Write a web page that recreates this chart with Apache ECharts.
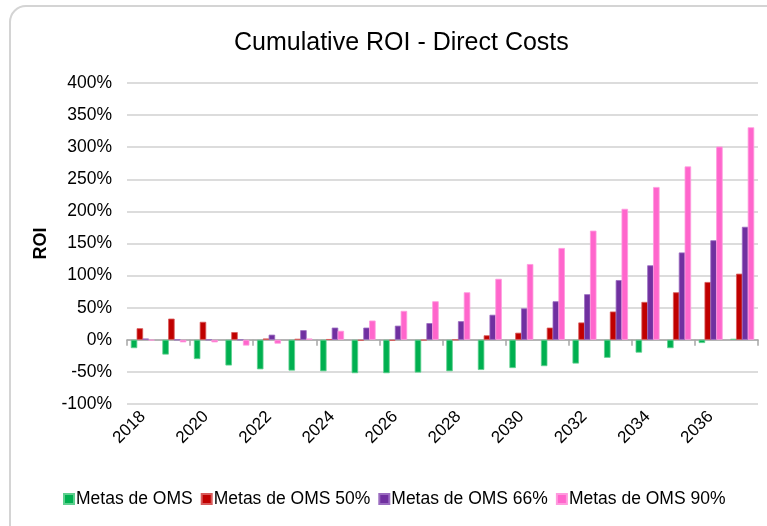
<!DOCTYPE html>
<html>
<head>
<meta charset="utf-8">
<script src="https://cdn.jsdelivr.net/npm/echarts@6/dist/echarts.min.js"></script>
<style>
  html, body { margin: 0; padding: 0; background: #fff; }
  #chartWrap { width: 767px; height: 526px; }
</style>
</head>
<body>
<div id="chartWrap"></div>
<script>
// 年份
var years = ['2018', '2019', '2020', '2021', '2022', '2023', '2024', '2025', '2026', '2027',
  '2028', '2029', '2030', '2031', '2032', '2033', '2034', '2035', '2036', '2037']
// ROI (%)
var metasOMS = [-13, -23, -30, -40, -46, -48, -49, -52, -52, -51, -49, -47, -44, -41, -37, -28, -20, -13, -5, 1.5]
var metas50 = [18, 33, 28, 12, 2, 1.5, 1, -1.5, -1.5, -1, 0, 7, 11, 19, 27, 44, 59, 74, 90, 103]
var metas66 = [2, 0, 0, 0, 8, 15, 19, 19, 22, 26, 29, 39, 49, 60, 71, 93, 116, 136, 155, 176]
var metas90 = [-1, -4, -4, -9, -6, 2, 14, 30, 45, 60, 74, 95, 118, 143, 170, 204, 238, 270, 301, 331]
var yTicks = [-100, -50, 0, 50, 100, 150, 200, 250, 300, 350, 400]

var myChart = echarts.init(document.getElementById('chartWrap'))
var font = 'Liberation Sans, Arial, sans-serif'

function barSeries(name, data, color, edge) {
  return {
    name: name,
    type: 'bar',
    xAxisIndex: 0,
    data: data,
    barGap: '-10%',
    barCategoryGap: '24%',
    itemStyle: { color: color, borderColor: edge, borderWidth: 0.8 },
    animation: false
  }
}

var option = {
  backgroundColor: '#fff',
  graphic: [{
    type: 'rect',
    shape: { x: 10, y: 6, width: 800, height: 560, r: 16 },
    style: { fill: 'none', stroke: '#d4d4d4', lineWidth: 2 },
    silent: true
  }],
  title: {
    text: 'Cumulative ROI - Direct Costs',
    left: 229,
    top: 26,
    textStyle: { fontFamily: font, fontSize: 25, fontWeight: 'normal', color: '#000' }
  },
  legend: {
    bottom: 13,
    left: 58,
    itemWidth: 10,
    itemHeight: 10,
    itemGap: 8,
    icon: 'rect',
    textStyle: { fontFamily: font, fontSize: 17.5, color: '#000', padding: [0, 0, 0, -3] },
    data: ['Metas de OMS', 'Metas de OMS 50%', 'Metas de OMS 66%', 'Metas de OMS 90%']
  },
  grid: { left: 127, right: 9, top: 83, bottom: 122 },
  xAxis: [{
    type: 'category',
    data: years,
    position: 'bottom',
    axisLine: { show: false, onZero: false },
    axisTick: { show: false },
    axisLabel: {
      interval: 1,
      rotate: 45,
      margin: 10,
      fontFamily: font,
      fontSize: 17,
      color: '#000'
    }
  }, {
    type: 'category',
    data: years,
    position: 'top',
    axisLine: { show: true, onZero: true, lineStyle: { color: '#a6a6a6', width: 1.5 } },
    axisTick: { show: true, inside: true, interval: 1, length: 6, lineStyle: { color: '#a6a6a6', width: 1.5 } },
    axisLabel: { show: false }
  }],
  yAxis: {
    type: 'value',
    min: yTicks[0],
    max: yTicks[yTicks.length - 1],
    interval: 50,
    name: 'ROI',
    nameLocation: 'middle',
    nameGap: 72,
    nameTextStyle: { fontFamily: font, fontSize: 18, fontWeight: 'bold', color: '#000' },
    axisLine: { show: false },
    axisTick: { show: false },
    axisLabel: {
      formatter: '{value}%',
      margin: 15,
      fontFamily: font,
      fontSize: 17.5,
      color: '#000'
    },
    splitLine: { lineStyle: { color: '#d0d0d0', width: 1.5 } }
  },
  series: [
    barSeries('Metas de OMS', metasOMS, '#00b050', '#5fd08f'),
    barSeries('Metas de OMS 50%', metas50, '#c00000', '#d85a5a'),
    barSeries('Metas de OMS 66%', metas66, '#7030a0', '#9b6cc0'),
    barSeries('Metas de OMS 90%', metas90, '#ff66cc', '#ff9ade')
  ]
}
myChart.setOption(option)
</script>
</body>
</html>
